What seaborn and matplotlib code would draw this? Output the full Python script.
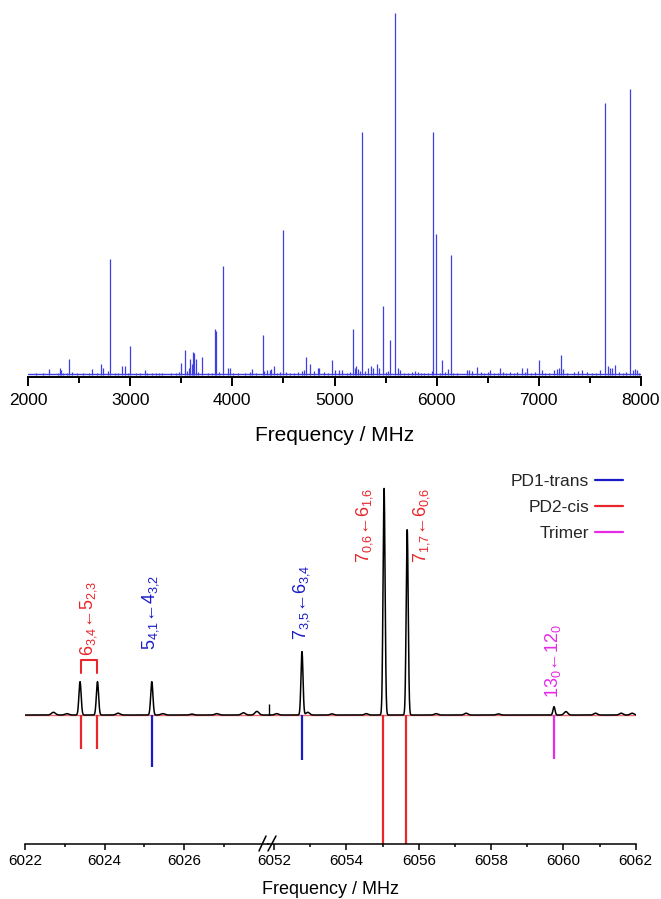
import numpy as np
import pandas as pd
import matplotlib
matplotlib.use("Agg")
import matplotlib.pyplot as plt
from matplotlib.lines import Line2D
import seaborn as sns

sns.set_theme(style="white")
plt.rcParams['font.family'] = ['Liberation Sans', 'DejaVu Sans']
plt.rcParams['mathtext.default'] = 'regular'

# ---------------- data: top survey spectrum (MHz, relative intensity) ----------------
strong_freq = [2807, 3001, 3535, 3614, 3628, 3700, 3834, 3838, 3908, 4297, 4499, 4723,
               4971, 5178, 5273, 5476, 5546, 5596, 5968, 5997, 6138, 7003, 7214, 7648,
               7897]
strong_int = [0.32, 0.08, 0.07, 0.064, 0.06, 0.05, 0.127, 0.12, 0.30, 0.11, 0.40, 0.048,
              0.04, 0.127, 0.67, 0.19, 0.096, 1.0, 0.67, 0.39, 0.33, 0.04, 0.055, 0.75,
              0.79]
medium_freq = [2210, 2309, 2405, 2626, 2716, 2733, 2780, 2917, 2952, 3142, 3502, 3590,
               3605, 3640, 3960, 3975, 4190, 4366, 4412, 4759, 4834, 4850, 5000, 5040,
               5070, 5215, 5330, 5360, 5414, 5440, 5620, 6055, 6110, 6399, 6617, 6832,
               6885, 7180, 7240, 7680, 7700, 7744, 7940]
medium_int = [0.016, 0.02, 0.043, 0.015, 0.029, 0.02, 0.01, 0.025, 0.025, 0.014, 0.034,
              0.045, 0.03, 0.045, 0.018, 0.02, 0.015, 0.012, 0.025, 0.03, 0.02, 0.02, 0.014,
              0.014, 0.014, 0.025, 0.018, 0.025, 0.031, 0.02, 0.02, 0.04, 0.015, 0.023,
              0.02, 0.02, 0.02, 0.015, 0.015, 0.025, 0.02, 0.026, 0.015]
weak_freq = [2080, 2150, 2290, 2325, 2340, 2380, 2430, 2480, 2540, 2600, 2680, 2850, 2880,
             2980, 3060, 3100, 3160, 3210, 3250, 3280, 3310, 3400, 3450, 3480, 3560, 3580,
             3660, 3760, 3800, 3870, 4010, 4060, 4120, 4170, 4230, 4310, 4340, 4380, 4440,
             4470, 4530, 4560, 4600, 4640, 4680, 4700, 4800, 4900, 4940, 5120, 5150, 5200,
             5230, 5250, 5300, 5380, 5500, 5520, 5640, 5680, 5720, 5760, 5790, 5820, 5850,
             5880, 5920, 5950, 6030, 6080, 6160, 6200, 6300, 6320, 6350, 6430, 6460, 6500,
             6520, 6560, 6600, 6650, 6680, 6720, 6760, 6790, 6860, 6920, 6960, 7030, 7060,
             7100, 7150, 7200, 7280, 7340, 7380, 7420, 7470, 7520, 7560, 7600, 7720, 7780,
             7820, 7850, 7920, 7960, 7980]
weak_int = [0.004, 0.005, 0.006, 0.012, 0.006, 0.005, 0.008, 0.004, 0.005, 0.004, 0.005,
            0.005, 0.006, 0.006, 0.005, 0.004, 0.006, 0.004, 0.005, 0.005, 0.005, 0.004,
            0.006, 0.008, 0.01, 0.02, 0.008, 0.006, 0.005, 0.008, 0.005, 0.004, 0.005,
            0.008, 0.006, 0.01, 0.012, 0.015, 0.006, 0.008, 0.008, 0.005, 0.006, 0.008,
            0.01, 0.012, 0.01, 0.008, 0.006, 0.006, 0.008, 0.02, 0.015, 0.01, 0.01, 0.018,
            0.008, 0.01, 0.012, 0.006, 0.004, 0.008, 0.01, 0.008, 0.006, 0.006, 0.006, 0.01,
            0.006, 0.008, 0.006, 0.004, 0.012, 0.012, 0.01, 0.008, 0.006, 0.008, 0.012,
            0.006, 0.006, 0.008, 0.006, 0.008, 0.006, 0.008, 0.008, 0.006, 0.008, 0.012,
            0.006, 0.005, 0.012, 0.018, 0.006, 0.008, 0.01, 0.012, 0.008, 0.006, 0.006,
            0.014, 0.02, 0.008, 0.006, 0.008, 0.012, 0.012, 0.006]

# ---------------- data: zoomed spectrum ----------------
exp_center = [6023.38, 6023.82, 6025.19, 6052.77, 6055.04, 6055.68, 6059.74]
exp_height = [0.147, 0.147, 0.147, 0.279, 1.0, 0.818, 0.037]
bump_center = [6022.71, 6023.05, 6024.34, 6025.47, 6026.2, 6026.83, 6027.5, 6027.84,
               6052.07, 6052.93, 6053.6, 6054.55, 6056.48, 6057.31, 6058.2, 6060.07,
               6060.89, 6061.6, 6061.9]
bump_height = [0.012, 0.006, 0.008, 0.006, 0.004, 0.006, 0.01, 0.016, 0.006, 0.012,
               0.005, 0.006, 0.006, 0.008, 0.005, 0.015, 0.008, 0.008, 0.008]
spike_freq = [6051.87]
spike_height = [0.048]

pd1_freq = [6025.19, 6052.77]
pd1_int = [-0.23, -0.198]
pd2_freq = [6023.40, 6023.82, 6055.02, 6055.66]
pd2_int = [-0.15, -0.15, -0.568, -0.568]
tri_freq = [6059.73]
tri_int = [-0.195]

labels_text = [r"$6_{3{,}4}$←$5_{2{,}3}$", r"$5_{4{,}1}$←$4_{3{,}2}$",
               r"$7_{3{,}5}$←$6_{3{,}4}$", r"$7_{0{,}6}$←$6_{1{,}6}$",
               r"$7_{1{,}7}$←$6_{0{,}6}$", r"$13_{0}$←$12_{0}$"]
labels_x = [6023.60, 6025.17, 6052.76, 6054.49, 6056.08, 6059.70]
labels_y = [0.262, 0.286, 0.33, 0.668, 0.668, 0.075]
labels_kind = ["PD2-cis", "PD1-trans", "PD1-trans", "PD2-cis", "PD2-cis", "Trimer"]

series_names = ["PD1-trans", "PD2-cis", "Trimer"]
colors = {"PD1-trans": "#1a1ac8", "PD2-cis": "#e8262b", "Trimer": "#e62ae6"}
top_blue = "#3f3fe2"

W, H = 661, 899
fig = plt.figure(figsize=(W / 100, H / 100), dpi=100)


def fx(px):
    return px / W


def fy(py):
    return 1 - py / H


# ---------------- top panel ----------------
ax1 = fig.add_axes([fx(28), fy(377), fx(641) - fx(28), fy(13) - fy(377)])
all_f = strong_freq + medium_freq + weak_freq
all_i = strong_int + medium_int + weak_int
df_top = pd.DataFrame({"freq": all_f, "inten": all_i})
ax1.vlines(df_top["freq"], 0, df_top["inten"], color=top_blue, lw=0.9)
ax1.axhline(0.002, color=top_blue, lw=1.0)
ax1.set_xlim(2000, 8000)
ax1.set_ylim(-0.006, 1.0)
for s in ["top", "left", "right"]:
    ax1.spines[s].set_visible(False)
ax1.spines["bottom"].set_color("black")
ax1.spines["bottom"].set_linewidth(1.4)
ax1.set_yticks([])
ax1.set_xticks(np.arange(2000, 8001, 1000))
ax1.set_xticks(np.arange(2500, 8000, 1000), minor=True)
ax1.tick_params(axis="x", which="major", direction="out", length=6.5, width=1.4,
                colors="black", labelsize=12.5, pad=5, bottom=True)
ax1.tick_params(axis="x", which="minor", direction="out", length=4, width=1.4,
                colors="black", bottom=True)
ax1.set_xlabel("Frequency / MHz", fontsize=15, labelpad=13, color="black")

# ---------------- bottom panel (broken axis) ----------------
bottom_y, top_y = 844, 470
axL = fig.add_axes([fx(25.3), fy(bottom_y), fx(268) - fx(25.3), fy(top_y) - fy(bottom_y)])
axR = fig.add_axes([fx(268), fy(bottom_y), fx(635.7) - fx(268), fy(top_y) - fy(bottom_y)])
axL.set_xlim(6022, 6028.12)
axR.set_xlim(6051.83, 6062)
sigma = 0.028
for ax in (axL, axR):
    lo, hi = ax.get_xlim()
    x = np.arange(lo, hi, 0.004)
    y = np.zeros_like(x)
    for c, h in zip(exp_center, exp_height):
        y += h * np.exp(-0.5 * ((x - c) / sigma) ** 2)
    for c, h in zip(bump_center, bump_height):
        y += h * np.exp(-0.5 * ((x - c) / 0.05) ** 2)
    ax.axhline(0, color=colors["PD2-cis"], lw=1.0, alpha=0.7, zorder=1)
    sns.lineplot(x=x, y=y, ax=ax, color="black", lw=1.1, estimator=None, sort=False,
                 zorder=3)
    for fr, it, nm in ([(f, i, "PD1-trans") for f, i in zip(pd1_freq, pd1_int)] +
                       [(f, i, "PD2-cis") for f, i in zip(pd2_freq, pd2_int)] +
                       [(f, i, "Trimer") for f, i in zip(tri_freq, tri_int)]):
        if lo <= fr <= hi:
            ax.vlines(fr, it, 0, color=colors[nm], lw=1.6, zorder=2)
    for fr, h in zip(spike_freq, spike_height):
        if lo <= fr <= hi:
            ax.vlines(fr, 0, h, color="black", lw=1.0, zorder=3)
    for t, xx, yy, k in zip(labels_text, labels_x, labels_y, labels_kind):
        if lo <= xx <= hi:
            ax.text(xx, yy, t, rotation=90, ha="center", va="bottom",
                    color=colors[k], fontsize=13)
    ax.set_ylim(-0.568, 1.079)
    for s in ["top", "left", "right"]:
        ax.spines[s].set_visible(False)
    ax.spines["bottom"].set_color("black")
    ax.spines["bottom"].set_linewidth(1.1)
    ax.set_yticks([])
    ax.set_ylabel("")
    ax.tick_params(axis="x", which="major", direction="out", length=4.5, width=1.1,
                   colors="black", labelsize=11, pad=2.5, bottom=True)
    ax.tick_params(axis="x", which="minor", direction="out", length=2.5, width=1.1,
                   colors="black", bottom=True)
    ax.set_facecolor("none")

axL.set_xticks([6022, 6024, 6026])
axL.set_xticks([6023, 6025, 6027], minor=True)
axR.set_xticks(np.arange(6052, 6063, 2))
axR.set_xticks(np.arange(6053, 6062, 2), minor=True)
axL.set_xlabel("")
axR.set_xlabel("")

# bracket for the 6_{3,4} doublet
axL.plot([pd2_freq[0], pd2_freq[0], pd2_freq[1], pd2_freq[1]],
         [0.186, 0.242, 0.242, 0.186], color=colors["PD2-cis"], lw=1.5)

# axis break marks
for x0, x1 in [(259, 266), (268, 276)]:
    fig.add_artist(Line2D([fx(x0), fx(x1)], [fy(851), fy(836)], color="black", lw=1.1))

fig.text(fx(330), fy(890), "Frequency / MHz", ha="center", va="center", fontsize=13,
         color="black")

# legend (text left, line right)
handles = [Line2D([], [], color=colors[n], lw=1.6) for n in series_names]
fig.legend(handles, series_names, loc="upper right",
           bbox_to_anchor=(fx(623), fy(474)), frameon=False, markerfirst=False,
           fontsize=12.5, handlelength=1.6, handletextpad=0.35, labelspacing=0.62,
           borderpad=0, borderaxespad=0)

fig.savefig("out.png", dpi=100)
